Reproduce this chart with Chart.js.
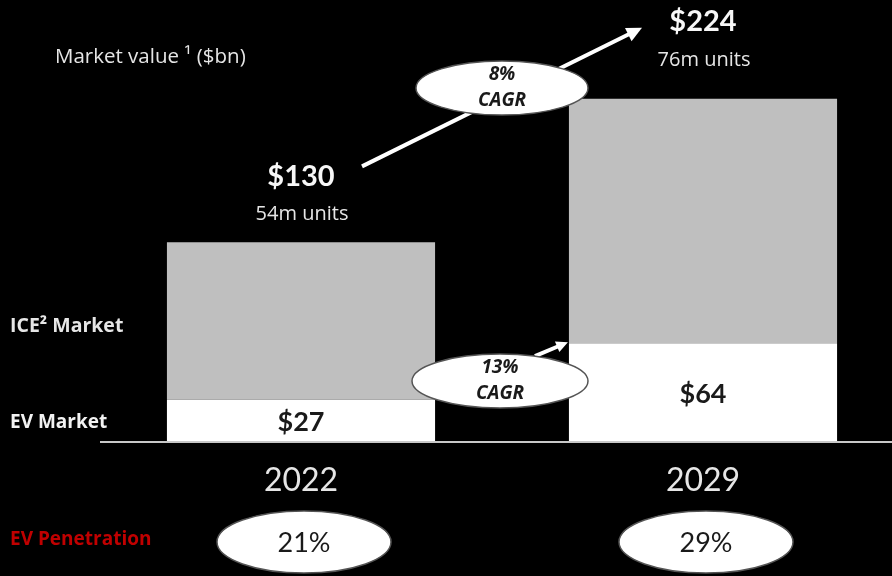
<!DOCTYPE html>
<html>
<head>
<meta charset="utf-8">
<script src="https://cdn.jsdelivr.net/npm/chart.js@4.4.1/dist/chart.umd.min.js"></script>
<style>
  html, body { margin: 0; padding: 0; background: #000; overflow: hidden; }
</style>
</head>
<body>
<canvas id="chart" width="904" height="576"></canvas>
<script>
// data
var years = ['2022', '2029'];
var evMarket = [27, 64];
var iceMarket = [103, 160];
var totals = [130, 224];
var units = ['54m units', '76m units'];
var penetration = ['21%', '29%'];
var totalCagr = '8%';
var evCagr = '13%';

var LATO = 'Lato, "Open Sans", sans-serif';
var OPEN = '"Open Sans", "Noto Sans", sans-serif';

function label(ctx, s, x, y, size, opts) {
  opts = opts || {};
  ctx.save();
  ctx.font = (opts.style || '') + ' ' + (opts.weight || 'normal') + ' ' + size + 'px ' + (opts.font || LATO);
  ctx.fillStyle = opts.color || '#f2f2f2';
  ctx.textAlign = opts.align || 'center';
  ctx.textBaseline = 'middle';
  ctx.fillText(s, x, y);
  ctx.restore();
}

function ellipse(ctx, x, y, rx, ry) {
  ctx.save();
  ctx.beginPath();
  ctx.ellipse(x, y, rx, ry, 0, 0, Math.PI * 2);
  ctx.fillStyle = '#ffffff';
  ctx.fill();
  ctx.lineWidth = 1.5;
  ctx.strokeStyle = '#555';
  ctx.stroke();
  ctx.restore();
}

function arrow(ctx, x1, y1, x2, y2, w, head) {
  var a = Math.atan2(y2 - y1, x2 - x1);
  ctx.save();
  ctx.strokeStyle = '#fff';
  ctx.fillStyle = '#fff';
  ctx.lineWidth = w;
  ctx.beginPath();
  ctx.moveTo(x1, y1);
  ctx.lineTo(x2 - Math.cos(a) * head * 0.8, y2 - Math.sin(a) * head * 0.8);
  ctx.stroke();
  ctx.beginPath();
  ctx.moveTo(x2, y2);
  ctx.lineTo(x2 - head * Math.cos(a - 0.45), y2 - head * Math.sin(a - 0.45));
  ctx.lineTo(x2 - head * Math.cos(a + 0.45), y2 - head * Math.sin(a + 0.45));
  ctx.closePath();
  ctx.fill();
  ctx.restore();
}

var slideText = {
  id: 'slideText',
  afterDatasetsDraw: function (chart) {
    var ctx = chart.ctx;
    var xs = chart.scales.x, ys = chart.scales.y;
    var area = chart.chartArea;
    var x0 = xs.getPixelForValue(0), x1 = xs.getPixelForValue(1);
    var base = ys.getPixelForValue(0);

    // baseline
    ctx.save();
    ctx.strokeStyle = '#c8c8c8';
    ctx.lineWidth = 2;
    ctx.beginPath();
    ctx.moveTo(area.left, base + 1);
    ctx.lineTo(area.right, base + 1);
    ctx.stroke();
    ctx.restore();

    label(ctx, 'Market value \u00B9 ($bn)', 55, 57, 20.5, { align: 'left', color: '#e6e6e6', font: OPEN });

    // row labels on the left
    var iceMid = (ys.getPixelForValue(evMarket[0]) + ys.getPixelForValue(totals[0])) / 2;
    var evMid0 = (base + ys.getPixelForValue(evMarket[0])) / 2;
    label(ctx, 'ICE\u00B2 Market', 10, iceMid + 5, 19.5, { align: 'left', weight: 'bold', color: '#e6e6e6', font: OPEN });
    label(ctx, 'EV Market', 10, evMid0 + 2, 19, { align: 'left', weight: 'bold', color: '#f2f2f2', font: OPEN });
    label(ctx, 'EV Penetration', 10, 540, 19, { align: 'left', weight: 'bold', color: '#c00000', font: OPEN });

    var xsArr = [x0, x1];
    var totOff = [[66, 28], [77, 38]];
    for (var i = 0; i < years.length; i++) {
      var x = xsArr[i];
      var top = ys.getPixelForValue(totals[i]);
      var evTop = ys.getPixelForValue(evMarket[i]);
      label(ctx, '$' + evMarket[i], x, (base + evTop) / 2 + 2, 27, { weight: 'bold', color: '#1a1a1a' });
      label(ctx, '$' + totals[i], x, top - totOff[i][0], 29, { weight: 'bold', color: '#f7f7f7' });
      label(ctx, units[i], x + 1, top - totOff[i][1], 20, { color: '#e6e6e6', font: OPEN });
      label(ctx, years[i], x, 481, 32, { color: '#e6e6e6' });
      ellipse(ctx, x + 3, 542, 87, 31);
      label(ctx, penetration[i], x + 3, 543, 27, { color: '#1a1a1a' });
    }

    // total market CAGR arrow
    var t0 = ys.getPixelForValue(totals[0]), t1 = ys.getPixelForValue(totals[1]);
    arrow(ctx, x0 + 61, t0 - 76, x1 - 61, t1 - 71, 4, 17);
    ellipse(ctx, 502, 88, 86, 27);
    label(ctx, totalCagr, 502, 75, 19, { style: 'italic', weight: 'bold', color: '#1a1a1a', font: OPEN });
    label(ctx, 'CAGR', 502, 101, 19, { style: 'italic', weight: 'bold', color: '#1a1a1a', font: OPEN });

    // EV CAGR arrow
    var e1 = ys.getPixelForValue(evMarket[1]);
    var barLeft = chart.getDatasetMeta(0).data[1].x - chart.getDatasetMeta(0).data[1].width / 2;
    arrow(ctx, barLeft - 34, e1 + 13, barLeft - 1, e1 - 1, 4, 13);
    ellipse(ctx, 500, 381, 88, 27);
    label(ctx, evCagr, 500, 368, 19, { style: 'italic', weight: 'bold', color: '#1a1a1a', font: OPEN });
    label(ctx, 'CAGR', 500, 394, 19, { style: 'italic', weight: 'bold', color: '#1a1a1a', font: OPEN });
  }
};

new Chart(document.getElementById('chart'), {
  type: 'bar',
  data: {
    labels: years,
    datasets: [
      { label: 'EV Market', data: evMarket, backgroundColor: '#ffffff', borderWidth: 0 },
      { label: 'ICE Market', data: iceMarket, backgroundColor: '#bfbfbf', borderWidth: 0 }
    ]
  },
  options: {
    responsive: false,
    animation: false,
    events: [],
    datasets: { bar: { categoryPercentage: 1, barPercentage: 0.667 } },
    layout: { padding: { left: 100, right: 0, top: 59, bottom: 135 } },
    scales: {
      x: { stacked: true, display: false },
      y: { stacked: true, display: false, min: 0, max: 250 }
    },
    plugins: { legend: { display: false }, tooltip: { enabled: false } }
  },
  plugins: [slideText]
});
</script>
</body>
</html>
